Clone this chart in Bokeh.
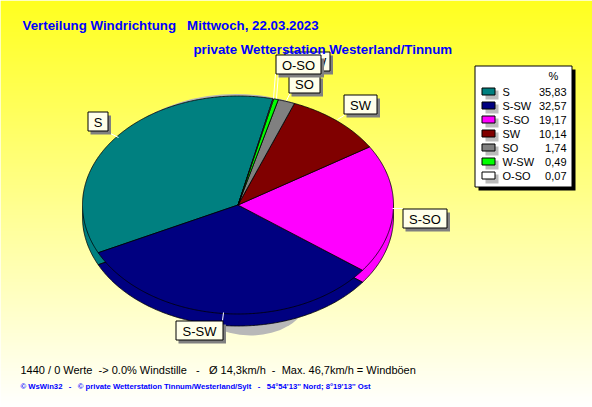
import numpy as np
from bokeh.plotting import figure
from bokeh.embed import file_html
from bokeh.resources import INLINE
from bokeh.core.properties import value

NB = "\u00a0"
categories = ["S", "S-SW", "S-SO", "SW", "SO", "W-SW", "O-SO"]
percent = [35.83, 32.57, 19.17, 10.14, 1.74, 0.49, 0.07]
percent_labels = ["35,83", "32,57", "19,17", "10,14", "1,74", "0,49", "0,07"]
colors = ["#008080", "#000080", "#FF00FF", "#800000", "#808080", "#00FF00", "#FFFFFF"]

title1 = f"Verteilung Windrichtung {NB}{NB}Mittwoch, 22.03.2023"
title2 = "private Wetterstation Westerland/Tinnum"
foot1 = f"1440 / 0 Werte {NB}-> 0.0% Windstille {NB}{NB}- {NB}{NB}Ø 14,3km/h {NB}- {NB}Max. 46,7km/h = Windböen"
foot2 = f"© WsWin32 {NB}{NB}- {NB}{NB}© private Wetterstation Tinnum/Westerland/Sylt {NB}{NB}- {NB}{NB}54°54'13'' Nord; 8°19'13'' Ost"

CX, CY, RX, RY, DEPTH, START = 237.5, 204.5, 155.5, 109, 12, 77
FONT = value("Liberation Sans")

p = figure(width=592, height=407, x_range=(0, 592), y_range=(407, 0),
           toolbar_location=None, output_backend="svg", min_border=0,
           x_axis_location=None, y_axis_location=None)
p.grid.visible = False
p.outline_line_color = None
p.background_fill_color = "#FFFFFF"
p.border_fill_color = None

# vertical yellow -> white gradient
rows = np.arange(0, 407)
p.quad(left=0, right=592, top=rows, bottom=rows + 1.2,
       color=["#FFFF%02X" % int(255 * (r / 406)) for r in rows], line_color=None)

# soft grey shadow below the pie and along its upper rim
p.ellipse(x=250, y=300, width=110, height=70, fill_color="#B8B8B8", line_color=None)
p.ellipse(x=CX - 2, y=CY - 2, width=2 * RX - 20, height=2 * RY, fill_color="#B8B8B8", line_color=None)

# slice geometry
total = sum(percent)
edges = [START]
for v in percent:
    edges.append(edges[-1] + v / total * 360)

def slice_pts(a0, a1, dy=0):
    t = np.radians(np.linspace(a0, a1, max(3, int(abs(a1 - a0) * 2))))
    xs = np.r_[CX, CX + RX * np.cos(t)]
    ys = np.r_[CY + dy, CY + dy - RY * np.sin(t)]
    return xs, ys

# side wall
for i in (0, 2, 1):
    xs, ys = slice_pts(edges[i], edges[i + 1], DEPTH)
    p.patch(xs, ys, fill_color=colors[i], line_color="#000000", line_width=0.8)

# top faces
for i in range(len(percent)):
    xs, ys = slice_pts(edges[i], edges[i + 1])
    p.patch(xs, ys, fill_color=colors[i], line_color="#000000", line_width=0.8)

# label boxes: category -> left, top, right, bottom, leader
boxes = [
    ("S", 87, 111, 107, 130, (110, 133), (118, 137)),
    ("SW", 343, 94, 376, 113, (345, 114), (337, 119)),
    ("SO", 288, 74, 319, 92, (290, 92), (286, 100)),
    ("W-SW", 284, 51, 329, 70, (278, 73), (276, 98)),
    ("O-SO", 275, 54, 320, 73, (275, 73), (273, 98)),
    ("S-SO", 402, 208, 446, 227, (402, 208), (392, 208)),
    ("S-SW", 175, 320, 222, 339, (222, 320), (223, 312)),
]
for _, l, t, r, b, a, c in boxes:
    p.line([a[0], c[0]], [a[1], c[1]], line_color="#FFFFFF", line_width=1)
for name, l, t, r, b, a, c in boxes:
    p.quad(left=l + 3, right=r + 3.5, top=t + 4, bottom=b + 4, fill_color="#808080", line_color=None)
    p.quad(left=l + .5, right=r + .5, top=t + .5, bottom=b + .5, fill_color="#FFFFEA", line_color="#000000", line_width=1)
    p.text(x=[(l + r) / 2 + .5], y=[(t + b) / 2 + 1], text=[name], text_font=FONT, text_font_size="13px",
           text_align="center", text_baseline="middle", text_color="#000000")

# legend
LEG_L, LEG_T, LEG_R, LEG_B = 474, 65, 571, 186
p.quad(left=LEG_L + 4, right=LEG_R + 4, top=LEG_T + 4, bottom=LEG_B + 4, fill_color="#000000", line_color=None)
p.quad(left=LEG_L + .5, right=LEG_R + .5, top=LEG_T + .5, bottom=LEG_B + .5, fill_color="#FFFFFF", line_color="#000000", line_width=1)
p.text(x=[553], y=[75], text=["%"], text_font=FONT, text_font_size="11px", text_align="center",
       text_baseline="middle", text_color="#000000")
for i, name in enumerate(categories):
    y = 91 + i * 14
    p.quad(left=485, right=498, top=y - 1, bottom=y + 8, fill_color="#BBBBBB", line_color=None)
    p.quad(left=481.5, right=494.5, top=y - 3.5, bottom=y + 3.5, fill_color=colors[i], line_color="#000000", line_width=1)
    p.text(x=[502], y=[y], text=[name], text_font=FONT, text_font_size="11px", text_baseline="middle",
           text_color="#000000")
    p.text(x=[566], y=[y], text=[percent_labels[i]], text_font=FONT, text_font_size="11px",
           text_align="right", text_baseline="middle", text_color="#000000")

# titles and footers
p.text(x=[22], y=[25], text=[title1], text_font=FONT, text_font_size="13.3px", text_font_style="bold",
       text_color="#0000FF", text_baseline="middle")
p.text(x=[193], y=[49], text=[title2], text_font=FONT, text_font_size="13.3px", text_font_style="bold",
       text_color="#0000FF", text_baseline="middle")
p.text(x=[20], y=[369], text=[foot1], text_font=FONT, text_font_size="11px",
       text_color="#000000", text_baseline="middle")
p.text(x=[20], y=[385.5], text=[foot2], text_font=FONT, text_font_size="7.7px", text_font_style="bold",
       text_color="#0000FF", text_baseline="middle")

open("out.html", "w").write(file_html(p, INLINE))
